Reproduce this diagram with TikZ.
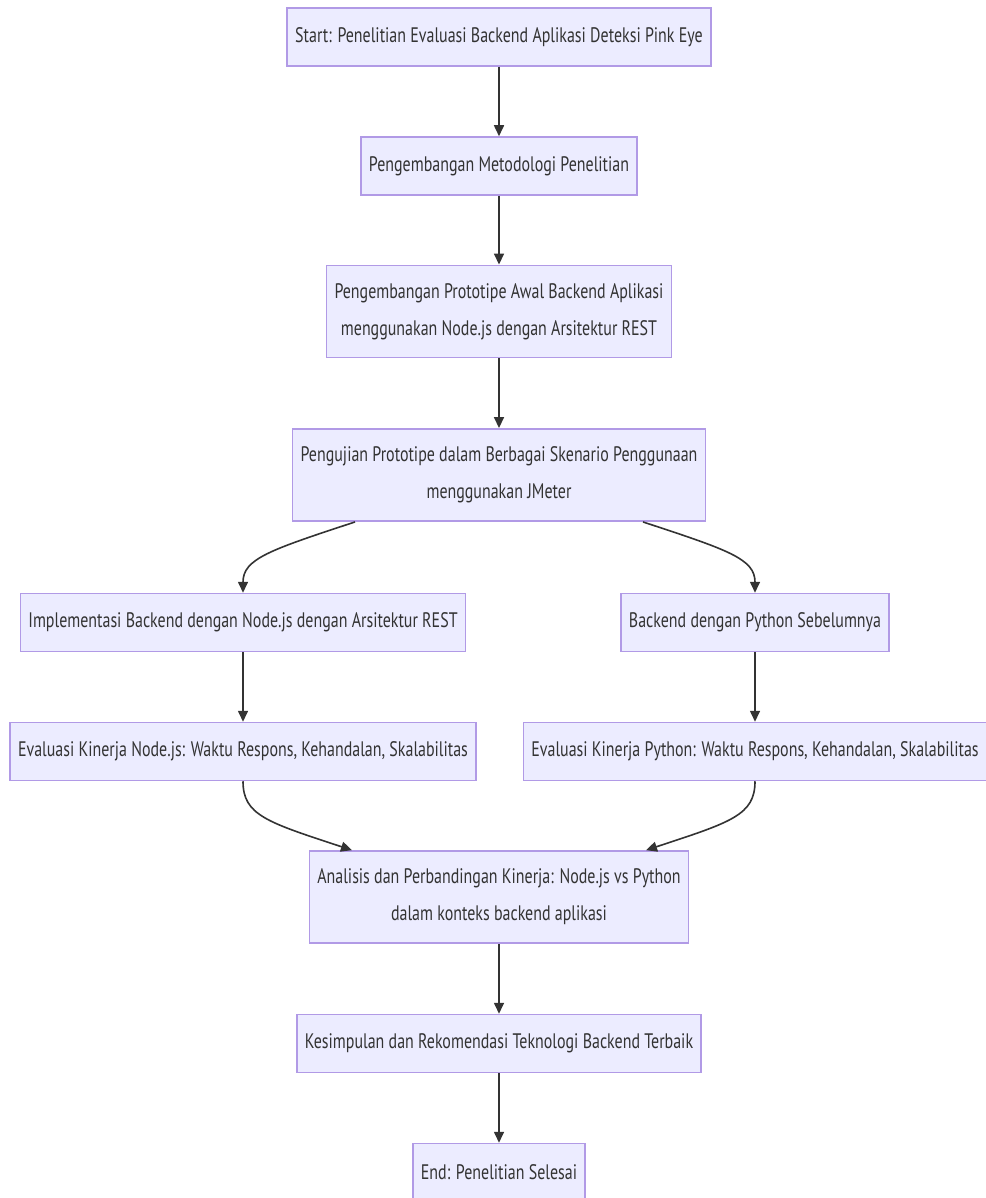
\documentclass[tikz,border=0pt]{standalone}
\usepackage{fontspec}
\usepackage{tikz}
\usetikzlibrary{arrows.meta}
\newfontfamily\flowfont[FakeStretch=0.76]{PT Sans}
\definecolor{boxfill}{HTML}{ECECFF}
\definecolor{boxline}{HTML}{B19AE6}
\definecolor{inkgray}{HTML}{333333}

\begin{document}
\begin{tikzpicture}[x=1pt, y=1pt, node distance=129pt,
    every node/.style={font=\flowfont\fontsize{21}{37}\selectfont, text=inkgray, align=center},
    stepbox/.style={rectangle, draw=boxline, fill=boxfill, line width=1.5pt, inner xsep=8pt, inner ysep=18pt, minimum height=58pt},
    flow/.style={draw=inkgray, line width=1.6pt, -{Triangle[length=11pt, width=10pt]}}]
    \useasboundingbox (0,0) rectangle (985,-1198);

    % Define blocks
    \node (start) [stepbox] at (499,-37) {Start: Penelitian Evaluasi Backend Aplikasi Deteksi Pink Eye};
    \node (metode) [stepbox, below of=start] {Pengembangan Metodologi Penelitian};
    \node (proto) [stepbox, below of=metode, yshift=-16.5pt] {Pengembangan Prototipe Awal Backend Aplikasi\\menggunakan Node.js dengan Arsitektur REST};
    \node (uji) [stepbox, below of=proto, yshift=-34.5pt] {Pengujian Prototipe dalam Berbagai Skenario Penggunaan\\menggunakan JMeter};

    \node (impl) [stepbox, below of=uji, xshift=-256pt, yshift=-18.5pt] {Implementasi Backend dengan Node.js dengan Arsitektur REST};
    \node (python) [stepbox, below of=uji, xshift=256pt, yshift=-18.5pt] {Backend dengan Python Sebelumnya};
    \node (evnode) [stepbox, below of=impl] {Evaluasi Kinerja Node.js: Waktu Respons, Kehandalan, Skalabilitas};
    \node (evpy) [stepbox, below of=python] {Evaluasi Kinerja Python: Waktu Respons, Kehandalan, Skalabilitas};

    \node (analisis) [stepbox, below of=evnode, xshift=256pt, yshift=-16.5pt] {Analisis dan Perbandingan Kinerja: Node.js vs Python\\dalam konteks backend aplikasi};
    \node (simpul) [stepbox, below of=analisis, yshift=-17.5pt] {Kesimpulan dan Rekomendasi Teknologi Backend Terbaik};
    \node (end) [stepbox, below of=simpul] {End: Penelitian Selesai};

    % Draw arrows
    \draw[flow] (start) -- (metode);
    \draw[flow] (metode) -- (proto);
    \draw[flow] (proto) -- (uji);

    \draw[flow] ([xshift=-144pt]uji.south) .. controls +(-85,-28) and +(0,34) .. (impl.north);
    \draw[flow] ([xshift=144pt]uji.south) .. controls +(85,-28) and +(0,34) .. (python.north);
    \draw[flow] (impl) -- (evnode);
    \draw[flow] (python) -- (evpy);

    \draw[flow] (evnode.south) .. controls +(0,-34) and +(-85,28) .. ([xshift=-147pt]analisis.north);
    \draw[flow] (evpy.south) .. controls +(0,-34) and +(85,28) .. ([xshift=147pt]analisis.north);

    \draw[flow] (analisis) -- (simpul);
    \draw[flow] (simpul) -- (end);
\end{tikzpicture}
\end{document}
